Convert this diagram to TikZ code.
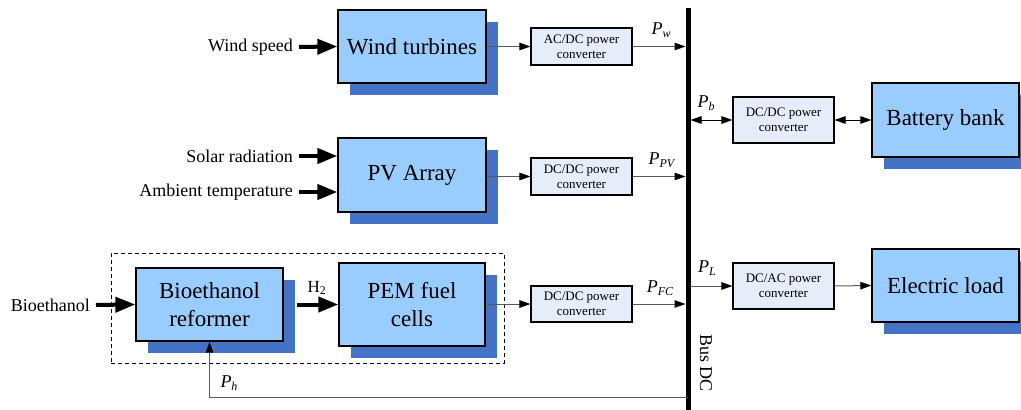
\documentclass[tikz,border=0pt]{standalone}
\usepackage{fontspec}
\setmainfont{Liberation Serif}
\usetikzlibrary{positioning,arrows.meta,shadows,fit}
\definecolor{boxblue}{RGB}{153,204,255}
\definecolor{shadowblue}{RGB}{68,114,196}
\definecolor{convfill}{RGB}{230,236,248}
\definecolor{wire}{RGB}{90,90,90}
\newcommand{\pw}[1]{\textit{P}\raisebox{-0.35ex}{\fontsize{12}{12}\selectfont\textit{#1}}}

\begin{document}
\begin{tikzpicture}[x=1pt, y=-1pt,
    block/.style={draw, line width=1.3pt, fill=boxblue, align=center, minimum width=148pt, minimum height=73pt,
        inner sep=0pt, font=\fontsize{23}{28}\selectfont,
        drop shadow={shadow xshift=12pt, shadow yshift=-12pt, fill=shadowblue, opacity=1}},
    convbox/.style={draw, line width=1.1pt, fill=convfill, align=center, minimum width=101pt, minimum height=37pt,
        inner sep=0pt, font=\fontsize{13}{15}\selectfont},
    lbl/.style={inner sep=0pt, font=\fontsize{18}{20}\selectfont},
    arrow/.style={-{Triangle[length=11pt, width=7.5pt, color=black]}, line width=1pt, draw=wire},
    dblarrow/.style={{Triangle[length=11pt, width=7.5pt]}-{Triangle[length=11pt, width=7.5pt]}, line width=1pt},
    thickarrow/.style={-{Triangle[length=20pt, width=15pt]}, line width=4pt, shorten <=6pt}
]
    \useasboundingbox (0,0) rectangle (1021,410);

    % sources and storage
    \node[block] (wind) at (412,46.5) {Wind turbines};
    \node[block, minimum height=74pt] (pv) at (412,175) {PV Array};
    \node[block, minimum width=147pt] (reform) at (209.5,304.5) {Bioethanol\\reformer};
    \node[block, minimum width=146pt, minimum height=83pt] (pem) at (412,304.5) {PEM fuel\\cells};
    \node[block, minimum width=147pt, minimum height=74pt] (bat) at (945.5,120) {Battery bank};
    \node[block, minimum width=147pt] (load) at (945.5,285.5) {Electric load};
    \node[draw, dash pattern=on 4pt off 3pt, line width=0.8pt, inner sep=0pt, fit={(111,253) (504,363)}] (fcsys) {};

    % converters
    \node[convbox] (acdc) at (581.5,46.5) {AC/DC power\\converter};
    \node[convbox] (dcpv) at (581.5,176.5) {DC/DC power\\converter};
    \node[convbox, minimum height=36pt] (dcfc) at (581.5,304) {DC/DC power\\converter};
    \node[convbox, minimum height=46pt] (dcbat) at (783.5,120) {DC/DC power\\converter};
    \node[convbox, minimum height=46pt] (dcac) at (783.5,286) {DC/AC power\\converter};

    % DC bus
    \coordinate (busT) at (688,8);
    \coordinate (busB) at (688,410);
    \draw[line width=5pt] (busT) -- (busB);
    \node[lbl, rotate=-90] (buslbl) at (706,363) {Bus DC};

    % inputs
    \node[lbl, anchor=east] (wspeed) at (293,47) {Wind speed};
    \node[lbl, anchor=east] (solar) at (293,156) {Solar radiation};
    \node[lbl, anchor=east] (temp) at (293,192) {Ambient temperature};
    \node[lbl, anchor=east] (ethanol) at (90,305) {Bioethanol};
    \draw[thickarrow] (wspeed.east) -- (wind.west);
    \draw[thickarrow] (solar.east) -- (solar.east -| pv.west);
    \draw[thickarrow] (temp.east) -- (temp.east -| pv.west);
    \draw[thickarrow] (ethanol.east) -- (reform.west);
    \draw[thickarrow, shorten <=13pt] (reform.east) -- (reform.east -| pem.west);
    \node[lbl, font=\fontsize{17}{19}\selectfont] (h2) at (317,288) {H\textsubscript{2}};

    % power flows
    \draw[arrow] (wind.east) -- (acdc.west);
    \draw[arrow, shorten >=2.5pt] (acdc.east) -- (acdc.east -| busT);
    \draw[arrow] (pv.east |- dcpv.west) -- (dcpv.west);
    \draw[arrow, shorten >=2.5pt] (dcpv.east) -- (dcpv.east -| busT);
    \draw[arrow] (pem.east |- dcfc.west) -- (dcfc.west);
    \draw[arrow, shorten >=2.5pt] (dcfc.east) -- (dcfc.east -| busT);
    \draw[dblarrow, shorten <=2.5pt] (dcbat.west -| busT) -- (dcbat.west);
    \draw[dblarrow] (dcbat.east) -- (bat.west);
    \draw[arrow, shorten <=2.5pt] (dcac.west -| busT) -- (dcac.west);
    \draw[arrow] (dcac.east) -- (load.west);
    \coordinate (fb) at (688,397);
    \draw[arrow] (fb) -| (reform.south);

    % power labels
    \node[lbl] (pwl) at (661,30) {\pw{w}};
    \node[lbl] (ppvl) at (662,160) {\pw{PV}};
    \node[lbl] (pfcl) at (660,288) {\pw{FC}};
    \node[lbl] (pbl) at (706,103) {\pw{b}};
    \node[lbl] (pll) at (707,268) {\pw{L}};
    \node[lbl] (phl) at (229,383) {\pw{h}};
\end{tikzpicture}
\end{document}
